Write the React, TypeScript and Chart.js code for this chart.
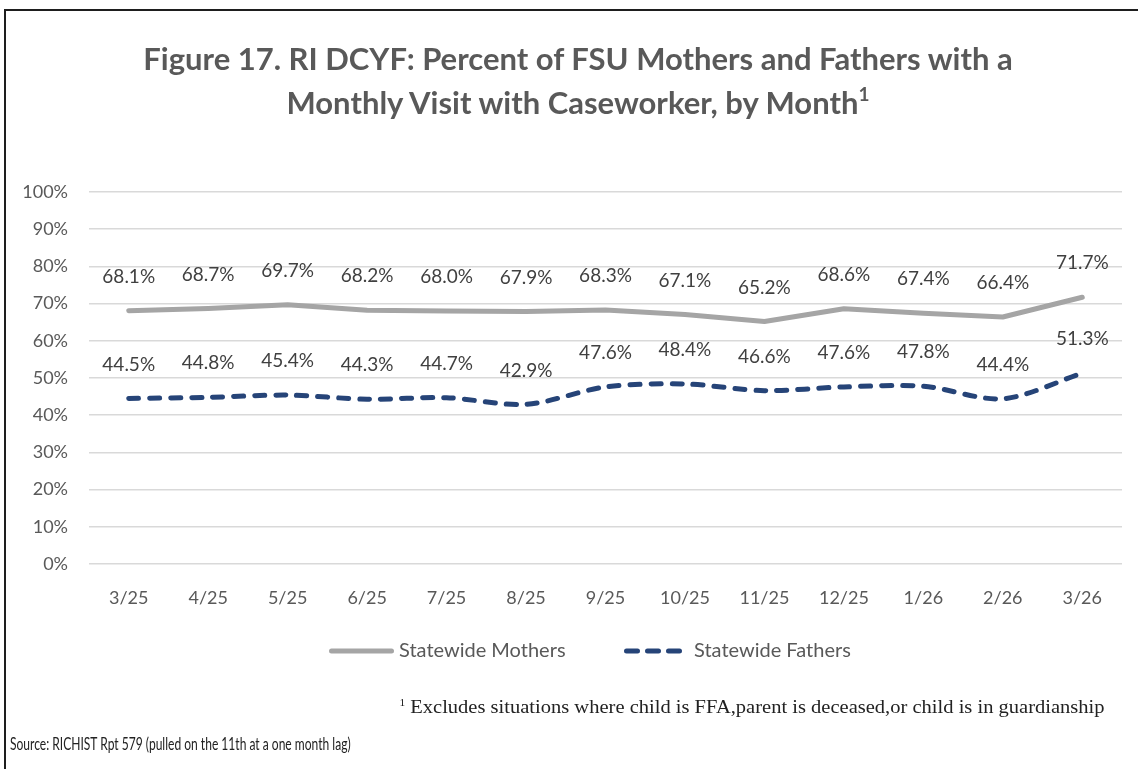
import React, { useEffect, useRef } from "react";
import { Chart, registerables } from "chart.js";

Chart.register(...registerables);

const categories = ["3/25", "4/25", "5/25", "6/25", "7/25", "8/25", "9/25", "10/25", "11/25", "12/25", "1/26", "2/26", "3/26"];
const mothers = [68.1, 68.7, 69.7, 68.2, 68.0, 67.9, 68.3, 67.1, 65.2, 68.6, 67.4, 66.4, 71.7];
const fathers = [44.5, 44.8, 45.4, 44.3, 44.7, 42.9, 47.6, 48.4, 46.6, 47.6, 47.8, 44.4, 51.3];
const seriesNames = ["Statewide Mothers", "Statewide Fathers"];
const yTicks = [0, 10, 20, 30, 40, 50, 60, 70, 80, 90, 100];

const FONT = "Lato, 'Open Sans', sans-serif";
const GRAY_TEXT = "#595959";
const MOTHER_COLOR = "#a5a5a5";
const FATHER_COLOR = "#264478";

const overlayPlugin = {
  id: "overlay",
  afterDatasetsDraw(chart: any) {
    const ctx = chart.ctx;
    ctx.save();
    ctx.font = `19px ${FONT}`;
    ctx.fillStyle = "#404040";
    ctx.textAlign = "center";
    ctx.textBaseline = "middle";
    chart.data.datasets.forEach((ds: any, i: number) => {
      const meta = chart.getDatasetMeta(i);
      meta.data.forEach((pt: any, j: number) => {
        ctx.fillText(ds.data[j].toFixed(1) + "%", pt.x, pt.y - 34);
      });
    });
    // legend
    const y = 651;
    ctx.lineCap = "round";
    ctx.lineWidth = 5;
    ctx.strokeStyle = MOTHER_COLOR;
    ctx.setLineDash([]);
    ctx.beginPath();
    ctx.moveTo(331.5, y);
    ctx.lineTo(391.5, y);
    ctx.stroke();
    ctx.strokeStyle = FATHER_COLOR;
    ctx.setLineDash([11, 10]);
    ctx.beginPath();
    ctx.moveTo(626.5, y);
    ctx.lineTo(681, y);
    ctx.stroke();
    ctx.setLineDash([]);
    ctx.fillStyle = GRAY_TEXT;
    ctx.textAlign = "left";
    ctx.font = `20px ${FONT}`;
    ctx.fillText(seriesNames[0], 399, y);
    ctx.fillText(seriesNames[1], 694, y);
    ctx.restore();
  },
};

export default function App() {
  const ref = useRef<HTMLCanvasElement | null>(null);
  useEffect(() => {
    if (!ref.current) return;
    const chart = new Chart(ref.current, {
      type: "line",
      data: {
        labels: categories,
        datasets: [
          {
            label: seriesNames[0],
            data: mothers,
            borderColor: MOTHER_COLOR,
            backgroundColor: MOTHER_COLOR,
            borderWidth: 5,
            pointRadius: 0,
            tension: 0,
            borderCapStyle: "round",
            borderJoinStyle: "round",
          },
          {
            label: seriesNames[1],
            data: fathers,
            borderColor: FATHER_COLOR,
            backgroundColor: FATHER_COLOR,
            borderWidth: 5,
            borderDash: [10, 11],
            borderCapStyle: "round",
            borderJoinStyle: "round",
            pointRadius: 0,
            tension: 0.3,
          },
        ],
      },
      options: {
        animation: false,
        responsive: false,
        maintainAspectRatio: false,
        layout: { padding: { left: 0, top: 192, right: 16, bottom: 155 } },
        plugins: {
          legend: { display: false },
          title: { display: false },
          tooltip: { enabled: false },
        },
        scales: {
          x: {
            offset: true,
            grid: { display: false, drawTicks: false },
            border: { display: false },
            ticks: { color: GRAY_TEXT, font: { family: FONT, size: 18 }, padding: 23, maxRotation: 0, autoSkip: false },
            afterFit: (s: any) => { s.height = 50; },
          },
          y: {
            min: 0,
            max: 100,
            grid: { color: "#d9d9d9", lineWidth: 1.5, drawTicks: false },
            border: { display: false },
            afterBuildTicks: (s: any) => { s.ticks = yTicks.map((v) => ({ value: v })); },
            ticks: {
              color: GRAY_TEXT,
              font: { family: FONT, size: 18 },
              padding: 21,
              callback: (v: any) => v + "%",
            },
            afterFit: (s: any) => { s.width = 89; },
          },
        },
      },
      plugins: [overlayPlugin],
    });
    return () => chart.destroy();
  }, []);

  return (
    <div style={{ position: "absolute", left: 0, top: 0, width: 1138, height: 769, overflow: "hidden", background: "#fff" }}>
      <div style={{ position: "absolute", left: 4, top: 9, width: 1200, height: 800, borderTop: "2px solid #1e1e1e", borderLeft: "2px solid #1e1e1e" }} />
      <canvas ref={ref} width={1138} height={769} style={{ position: "absolute", left: 0, top: 0, width: 1138, height: 769 }} />
      <div style={{ position: "absolute", left: 0, width: 1156, top: 36, textAlign: "center", fontFamily: FONT, fontWeight: 700, fontSize: 31, lineHeight: "44px", color: GRAY_TEXT }}>
        Figure 17. RI DCYF: Percent of FSU Mothers and Fathers with a<br />
        Monthly Visit with Caseworker, by Month<sup style={{ fontSize: 19, verticalAlign: "top", lineHeight: "28px" }}>1</sup>
      </div>
      <div style={{ position: "absolute", right: 33, top: 697, whiteSpace: "nowrap", fontFamily: "'Liberation Serif', serif", fontSize: 18, color: "#222", transform: "scaleX(1.14)", transformOrigin: "right center" }}>
        <sup style={{ fontSize: 10 }}>1</sup> Excludes situations where child is FFA,parent is deceased,or child is in guardianship
      </div>
      <div style={{ position: "absolute", left: 10, top: 734, whiteSpace: "nowrap", fontFamily: FONT, fontSize: 16.5, color: "#222", transform: "scaleX(0.73)", transformOrigin: "left center" }}>
        Source: RICHIST Rpt 579 (pulled on the 11th at a one month lag)
      </div>
    </div>
  );
}
